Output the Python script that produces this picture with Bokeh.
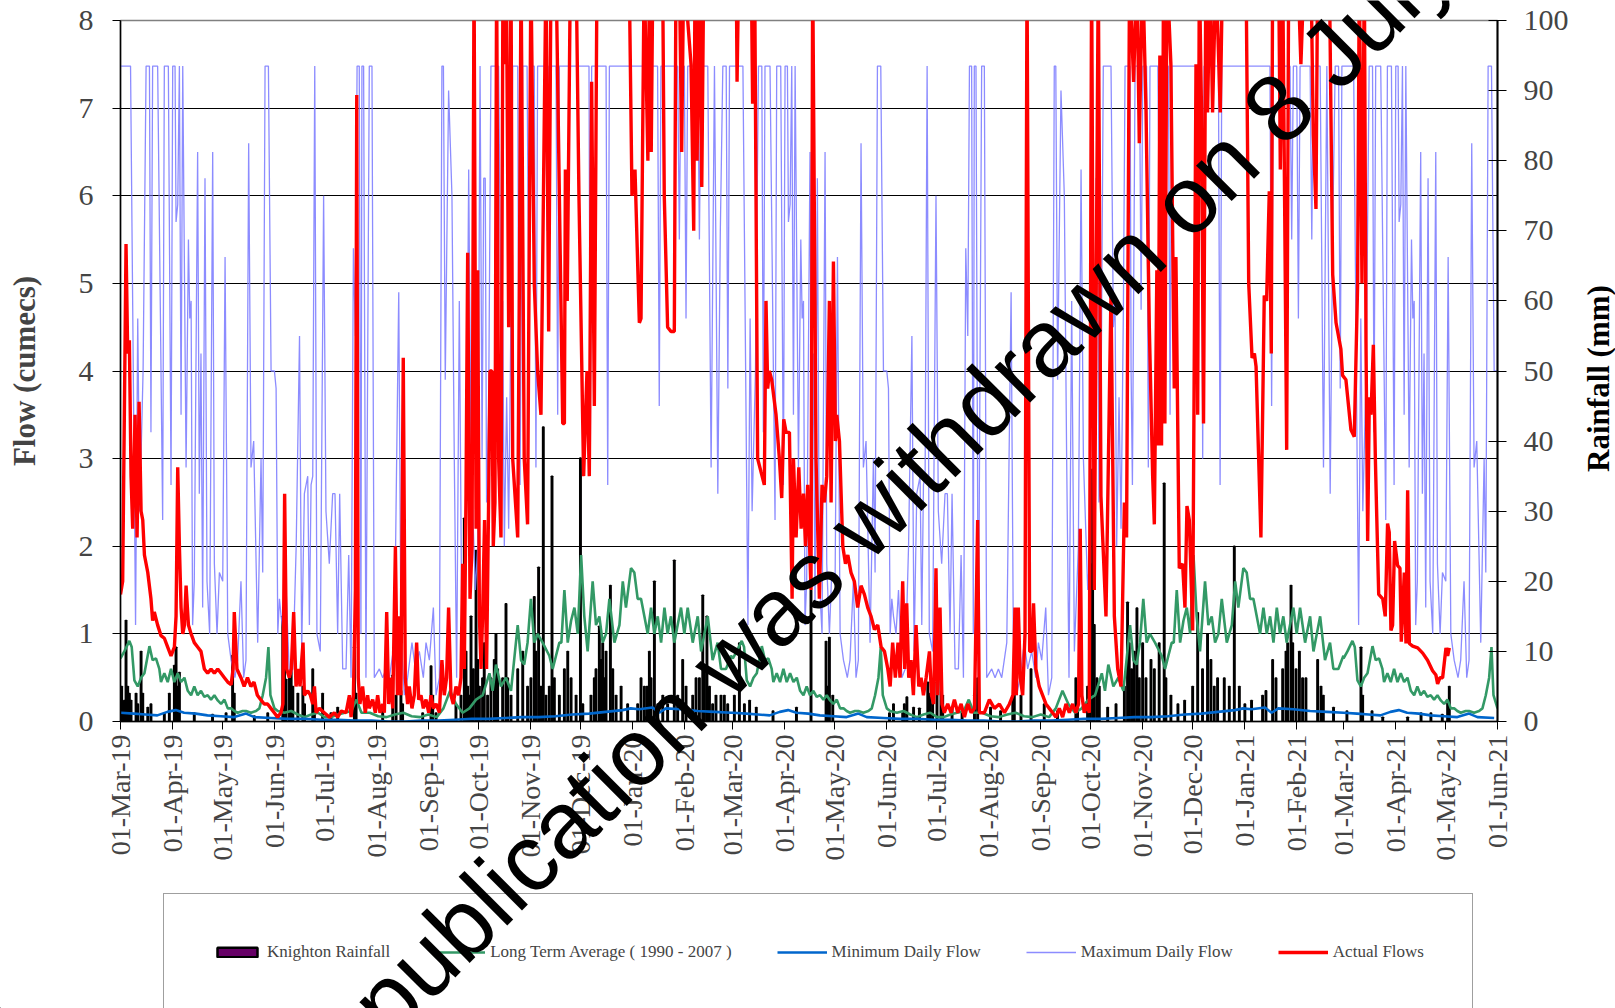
import math
import pandas as pd
from bokeh.plotting import figure
from bokeh.layouts import column
from bokeh.models import (Range1d, LinearAxis, FixedTicker, DatetimeTickFormatter,
                          Legend, LegendItem)
from bokeh.core.properties import value
from bokeh.embed import file_html
from bokeh.resources import INLINE

# ---------------- data ----------------
START = "2019-03-01"
END = "2021-06-01"
# calendar-statistic series repeat each hydrological year (day offset from 1 March)
year_starts = ["2019-03-01", "2020-03-01", "2021-03-01"]

# Maximum Daily Flow (cumecs), by day after 1 March
max_flow_pts = [
    (0, 7.48), (6, 7.48), (9, 1.1), (10.3, 4.6), (11.5, 2.4), (13.5, 4.0), (15.3, 7.48), (17.3, 7.48),
    (18.2, 3.3), (19.2, 7.48), (22.2, 7.48), (25.2, 2.3), (26.2, 7.48), (28.6, 7.48), (30.2, 2.7),
    (31.2, 7.48), (32.6, 7.48), (33.2, 5.7), (34.2, 5.9), (35.2, 7.48), (36.2, 3.5), (37.2, 7.48),
    (39.2, 2.9), (40.6, 5.5), (41.4, 4.6), (42.2, 4.8), (43.1, 1.1), (44.1, 1.6), (46.1, 6.5),
    (47.1, 2.6), (48.1, 4.2), (49.1, 1.3), (50.5, 6.2), (51.7, 1.6), (53.3, 1.0), (55.1, 6.5),
    (56.1, 1.8), (57.7, 1.0), (59.1, 1.7), (61.1, 1.6), (62.5, 5.3), (64.1, 1.0), (66.1, 0.7),
    (68.4, 0.5), (70, 0.7), (72, 1.6), (73.6, 0.5), (75, 0.7), (76.6, 6.6), (78, 2.9), (79.6, 3.2),
    (82, 0.9), (84, 3.0), (85, 1.7), (86.4, 7.48), (88.4, 7.48), (90, 4.0), (92, 4.0), (93, 3.8),
    (94, 1.0), (95, 1.4), (96, 1.2), (97.5, 1.0), (99, 1.5), (101, 0.5), (103, 0.6), (105, 2.0),
    (107, 4.4), (108.3, 0.8), (109.9, 2.6), (111.9, 2.8), (112.9, 1.1), (113.9, 2.7), (114.9, 2.8),
    (116.1, 7.48), (117.4, 1.0), (119.4, 0.8), (121.4, 6.0), (122.8, 2.4), (124.8, 1.8), (126.8, 2.6),
    (128.2, 2.6), (129.8, 1.0), (131, 2.6), (132.8, 0.6), (134.8, 0.6), (136.4, 1.9), (137.8, 0.5),
    (139.2, 5.4), (140.4, 4.4), (141.4, 7.48), (142.7, 7.48), (143.7, 1.0), (144.3, 7.48), (145.3, 7.48),
    (146.7, 0.5), (148.7, 7.48), (150.3, 7.48), (151.7, 0.5), (154.7, 0.6), (156.7, 0.5), (158.7, 0.6),
    (160.7, 0.5), (163.7, 0.9), (166.3, 4.9), (167.6, 1.0), (169.6, 0.3), (171.6, 0.5), (174.2, 0.9),
    (176.2, 0.6), (178.6, 0.8), (181, 0.5), (182.6, 0.9), (184.6, 0.7), (187, 1.3), (188.6, 0.3),
    (190.6, 0.5), (192.1, 7.48), (193, 7.48), (194.1, 3.9), (196.1, 7.2), (198.1, 6.0), (199.5, 3.0),
    (200.9, 0.5), (202.5, 4.8), (204.1, 0.8), (206.5, 2.0), (208.1, 6.3), (209.5, 3.0), (212.1, 1.5),
    (213.5, 2.0), (214.9, 7.48), (216.1, 3.0), (217.1, 6.2), (218, 6.2), (218.8, 2.5), (220, 3.5),
    (221.4, 7.48), (226, 7.48), (227.4, 4.5), (228.4, 4.8), (229.4, 2.0), (230.8, 3.7), (232, 2.2),
    (233.4, 4.7), (234.4, 7.48), (237.4, 7.48), (238, 4.0), (238.8, 2.7), (240.4, 7.48), (243, 7.48),
    (244, 4.7), (245, 7.48), (247.3, 7.48), (248.3, 2.9), (249.3, 7.48), (254, 7.48), (255, 5.6),
    (256, 7.48), (260.3, 7.48), (261.3, 3.5), (262.3, 7.48), (280, 7.48), (280.8, 3.0), (281.6, 7.48),
    (290.2, 7.48), (291.2, 2.7), (292.2, 7.48), (321, 7.48), (322, 3.6), (323, 7.48), (333, 7.48),
    (334, 5.5), (335, 7.48), (337, 7.48), (338, 4.6), (339, 7.48), (345, 7.48), (346, 5.5), (347, 7.48),
    (351, 7.48), (353, 2.9), (355, 7.48), (357, 2.6), (358.5, 5.6), (360, 7.48), (362, 7.48),
    (363, 3.8), (364, 7.48), (365, 7.48),
]

# Long Term Average (1990 - 2007), cumecs, by day after 1 March
lta_pts = [
    (0, 0.72), (2.3, 0.8), (5.3, 0.92), (6.7, 0.85), (8.3, 0.47), (10.3, 0.4), (12.3, 0.5), (14.3, 0.55),
    (17.3, 0.86), (19.2, 0.7), (21.2, 0.72), (23.2, 0.6), (24.2, 0.45), (26.2, 0.55), (28.2, 0.45),
    (30.2, 0.6), (32.2, 0.45), (34.2, 0.55), (36.2, 0.45), (38.2, 0.5), (40.2, 0.35), (42.2, 0.3),
    (44.1, 0.4), (46.1, 0.3), (48.1, 0.35), (50.1, 0.28), (52.1, 0.3), (54.1, 0.25), (56.1, 0.3),
    (58.1, 0.24), (60.1, 0.2), (62.1, 0.25), (64.1, 0.15), (66.1, 0.15), (68, 0.12), (70, 0.1),
    (73, 0.12), (75, 0.12), (78, 0.1), (81, 0.12), (83, 0.15), (85, 0.3), (87, 0.5), (88.4, 0.85),
    (89.6, 0.3), (92, 0.15), (94, 0.12), (98, 0.1), (102, 0.12), (106, 0.08), (110, 0.05), (114, 0.08),
    (118, 0.1), (122, 0.05), (126, 0.05), (130, 0.08), (134, 0.1), (138, 0.12), (141, 0.25), (144, 0.1),
    (149, 0.1), (154, 0.06), (159, 0.05), (164, 0.08), (169, 0.1), (174, 0.06), (179, 0.05), (184, 0.08),
    (189, 0.05), (193, 0.15), (197, 0.35), (200.5, 0.2), (204.5, 0.1), (208.5, 0.15), (212.5, 0.25),
    (216.5, 0.3), (220.5, 0.55), (222.4, 0.35), (224.4, 0.65), (227.4, 0.4), (230.4, 0.5), (233.4, 0.35),
    (237.4, 1.1), (239.4, 0.7), (241.3, 0.65), (243.3, 0.9), (245.3, 1.4), (247.3, 0.9), (249.3, 1.0),
    (252.3, 0.9), (256.3, 0.75), (258.3, 0.6), (260.3, 0.75), (262.3, 0.9), (263.5, 0.9), (265.3, 1.5),
    (267.3, 0.9), (269.3, 1.15), (271.3, 1.3), (273.3, 1.0), (275.3, 1.9), (277.2, 1.2), (279.2, 0.8),
    (282.2, 1.6), (284.2, 1.1), (286.2, 1.2), (288.2, 0.9), (290.2, 1.0), (292.2, 1.4), (295.2, 0.9),
    (298.2, 1.1), (300.2, 1.6), (302.1, 1.3), (305.1, 1.75), (307.1, 1.7), (309.1, 1.4), (311.1, 1.4),
    (313.1, 1.2), (315.1, 1.0), (317.1, 1.3), (319.1, 1.0), (321.1, 1.2), (323.1, 0.9), (325.1, 1.3),
    (327, 1.0), (329, 1.2), (331, 0.9), (333, 1.1), (335, 1.3), (337, 1.0), (339, 1.3), (342, 0.9),
    (345, 1.2), (347, 0.8), (349, 1.0), (351, 1.2), (353.9, 0.7), (356.9, 0.9), (358.9, 0.6),
    (361.9, 0.6), (364.9, 0.75),
]

# Minimum Daily Flow (cumecs), by day after 1 March
min_flow_pts = [
    (0, 0.10), (8, 0.09), (15, 0.08), (22, 0.07), (28, 0.11), (33, 0.13), (38, 0.10), (45, 0.09),
    (52, 0.07), (60, 0.06), (68, 0.05), (75, 0.09), (80, 0.05), (90, 0.04), (100, 0.03), (110, 0.03),
    (120, 0.02), (130, 0.02), (140, 0.01), (150, 0.01), (160, 0.0), (170, 0.0), (180, 0.01), (190, 0.01),
    (200, 0.02), (210, 0.03), (220, 0.03), (230, 0.04), (240, 0.05), (250, 0.05), (260, 0.06),
    (270, 0.08), (280, 0.09), (290, 0.11), (300, 0.13), (305, 0.15), (310, 0.14), (318, 0.16),
    (322, 0.10), (326, 0.15), (335, 0.14), (345, 0.12), (355, 0.11), (365, 0.10),
]

# Actual Flows (cumecs), by day after 1 March 2019 (values above 8 run off the top)
actual_pts = [
    (0, 1.45), (1.3, 1.6), (2.3, 3.5), (3.3, 5.45), (4.3, 4.2), (5.3, 4.35), (6.3, 2.8), (7.3, 2.2),
    (8.7, 3.5), (9.9, 2.1), (11.1, 3.65), (12.3, 2.4), (13.3, 2.3), (14.3, 1.9), (16.3, 1.7), (18.2, 1.4),
    (19.2, 1.15), (20.2, 1.25), (22.2, 1.1), (24.2, 0.98), (26.2, 0.95), (28.2, 0.85), (30.2, 0.75),
    (32.2, 0.85), (33.2, 1.2), (34.2, 2.9), (35.2, 2.0), (36.2, 1.3), (37.2, 1.0), (38.2, 1.1),
    (39.2, 1.55), (40.6, 1.1), (42.2, 1.0), (44.1, 0.9), (46.1, 0.85), (48.1, 0.8), (50.1, 0.6),
    (52.1, 0.55), (54.1, 0.6), (56.1, 0.55), (58.1, 0.6), (60.1, 0.55), (62.1, 0.5), (64.1, 0.45),
    (66.1, 0.42), (67.3, 0.6), (68, 1.25), (69.6, 0.6), (72, 0.5), (73.9, 0.4), (75.9, 0.5), (77.9, 0.4),
    (79.8, 0.45), (81.8, 0.3), (83.8, 0.25), (85.9, 0.2), (87.9, 0.2), (89.9, 0.15), (91.9, 0.1),
    (93.9, 0.05), (95.9, 0.1), (97.1, 0.2), (98.1, 2.6), (99.3, 0.6), (100.9, 0.5), (102.1, 0.6),
    (103.5, 1.25), (104.9, 0.4), (106.3, 0.6), (107.3, 0.4), (108.3, 0.7), (109.1, 0.9), (109.9, 0.3),
    (111.9, 0.35), (113.5, 0.3), (114.9, 0.2), (115.9, 0.4), (116.9, 0.1), (118.8, 0.15), (121.8, 0.1),
    (124.8, 0.05), (127.8, 0.1), (129.8, 0.05), (132, 0.12), (134.8, 0.1), (136.8, 0.3), (137.8, 0.05),
    (139.2, 0.3), (140.4, 1.5), (141.2, 7.15), (142.1, 0.5), (143.1, 0.2), (144.7, 0.4), (146.3, 0.1),
    (147.7, 0.3), (148.7, 0.15), (150.7, 0.25), (152.3, 0.1), (153.7, 0.3), (155.1, 0.1), (156.7, 0.2),
    (157.7, 0.1), (159.1, 1.25), (160.3, 0.2), (161.7, 0.5), (162.7, 0.15), (164.3, 2.0), (165.5, 0.3),
    (166.6, 1.2), (167.6, 0.3), (169, 4.15), (170.2, 0.5), (171.6, 0.2), (172.6, 0.4), (174.2, 0.15),
    (175.6, 0.3), (177, 0.9), (178.2, 0.25), (179.6, 0.3), (181, 0.15), (182.6, 0.25), (184.2, 0.1),
    (185.6, 0.3), (187, 0.15), (188.6, 0.2), (190.6, 0.1), (192.1, 0.7), (193.5, 0.3), (194.9, 0.5),
    (196.1, 1.3), (197.5, 0.3), (198.9, 0.2), (200.5, 0.4), (202.1, 0.3), (203.5, 0.5), (204.5, 1.8),
    (205.5, 0.6), (206.5, 2.6), (207.5, 5.35), (208.9, 1.4), (210.1, 2.0), (211.3, 8.6), (212.5, 2.2),
    (213.5, 5.15), (214.5, 1.2), (215.5, 0.6), (216.4, 1.2), (217.6, 2.3), (218.8, 0.6), (220, 2.5),
    (220.8, 4.0), (222, 4.0), (222.8, 2.0), (223.8, 2.5), (224.8, 8.6), (226, 3.0), (227.4, 2.1),
    (228.6, 8.6), (229.6, 7.5), (230.6, 8.6), (232, 4.5), (233.4, 8.6), (234.4, 3.0), (237.4, 2.1),
    (238.4, 5.0), (239.4, 8.6), (241.3, 3.0), (243.3, 2.25), (245.3, 8.6), (247.3, 5.0), (249.3, 4.0),
    (251.3, 3.5), (254.3, 8.6), (255.9, 4.45), (257.3, 8.6), (260.3, 8.6), (262.3, 6.0), (264.3, 3.4),
    (265.3, 3.4), (265.9, 6.3), (267, 4.8), (268.9, 8.6), (272.3, 8.6), (274, 6.0), (276.8, 2.8),
    (278.8, 4.0), (280.2, 2.8), (281.6, 7.3), (283.2, 3.6), (284.8, 8.6), (304, 8.6), (305.7, 6.0),
    (307.5, 6.3), (310.1, 4.55), (311.1, 4.6), (313, 8.6), (315.2, 6.4), (316.2, 8.6), (317.2, 6.5),
    (318.2, 8.6), (324, 8.6), (325, 6.0), (327, 4.5), (329, 4.45), (331, 4.45), (332, 8.6), (334, 8.6),
    (335.4, 6.5), (336.6, 8.6), (341, 7.5), (342.6, 5.6), (343.4, 8.6), (344.6, 6.4), (346, 8.6),
    (347.4, 6.1), (348.6, 8.6), (368, 8.6), (368.5, 7.3), (369.5, 8.6), (377, 8.6), (377.8, 7.05),
    (379, 8.6), (380.8, 3.0), (384.8, 2.7), (385.8, 4.8), (386.8, 3.8), (387.8, 4.0), (389.2, 3.9),
    (391.8, 3.5), (393.8, 3.0), (395.2, 2.55), (396.4, 3.45), (397.8, 3.3), (399.8, 3.3), (401.4, 1.4),
    (402.2, 3.0), (403.8, 2.1), (405.4, 2.9), (406.8, 2.2), (408.2, 2.6), (409.4, 2.0), (410.7, 2.7),
    (412.7, 1.5), (413.7, 8.6), (415.7, 3.0), (417.7, 1.4), (419.3, 2.7), (420.7, 2.5), (422.1, 2.8),
    (423.7, 4.8), (424.7, 2.5), (426.1, 5.25), (427.3, 3.2), (428.1, 3.5), (429.7, 3.2), (431.7, 2.0),
    (433.3, 1.8), (434.7, 1.9), (436.6, 1.7), (438.6, 1.6), (440.6, 1.3), (442.6, 1.55), (444.6, 1.45),
    (446.6, 1.3), (448.6, 1.2), (450.6, 1.05), (452.6, 1.1), (454.6, 0.85), (456.6, 0.8), (458.6, 0.6),
    (460, 0.4), (461.5, 0.9), (463.1, 0.5), (464.7, 0.9), (465.9, 0.5), (467.5, 1.6), (468.7, 0.6),
    (469.9, 1.35), (471.1, 0.5), (472.5, 0.7), (473.9, 0.3), (475.5, 1.1), (477.1, 0.4), (478.5, 0.5),
    (479.9, 0.3), (481.5, 0.5), (483.5, 0.8), (484.7, 0.3), (486, 0.2), (487.4, 1.75), (488.4, 0.3),
    (489.8, 1.3), (491, 0.2), (492.4, 0.1), (494.4, 0.2), (496.4, 0.1), (498.4, 0.25), (500.4, 0.1),
    (502.4, 0.2), (504.4, 0.05), (506.4, 0.2), (508.4, 0.1), (510.4, 0.15), (512.3, 2.3), (513.3, 0.1),
    (516.3, 0.1), (519.3, 0.25), (522.3, 0.15), (525.3, 0.2), (528.3, 0.1), (531.3, 0.2), (533.4, 0.3),
    (534.6, 1.3), (535.4, 0.3), (536.6, 1.3), (537.8, 0.5), (539.2, 0.3), (540.6, 1.0), (541.8, 8.6),
    (543.4, 0.8), (544.6, 0.8), (545.7, 1.35), (547.1, 0.6), (549.1, 0.4), (551.1, 0.3), (553.1, 0.2),
    (555.1, 0.15), (557.1, 0.1), (559.1, 0.05), (561.1, 0.15), (563.1, 0.05), (565.1, 0.2), (567.1, 0.1),
    (569.1, 0.2), (571, 0.1), (572.6, 0.2), (573.6, 2.2), (574.6, 0.3), (576, 0.1), (577.6, 0.2),
    (579, 0.1), (580.4, 8.6), (582, 1.5), (584.4, 8.6), (586, 2.57), (589, 1.2), (592, 4.9), (594, 1.2),
    (596, 0.6), (598, 0.4), (600, 2.5), (601.3, 2.1), (603.1, 8.6), (605.5, 7.3), (607.5, 8.6),
    (608.9, 6.6), (610.9, 8.6), (612.9, 7.0), (614.9, 4.5), (616.9, 2.8), (617.9, 2.25), (619.4, 5.15),
    (620.2, 3.15), (621.2, 7.6), (622.2, 3.15), (623.4, 8.6), (624.2, 3.4), (625.4, 8.6), (627.8, 7.5),
    (629.8, 3.8), (630.8, 5.3), (632.8, 1.75), (634.8, 1.8), (636.2, 1.3), (637.4, 2.46), (638.8, 2.3),
    (640.8, 1.04), (642.8, 7.5), (643.8, 3.5), (644.8, 8.6), (646.1, 6.95), (647.3, 3.4), (648.7, 8.6),
    (649.7, 6.95), (651.3, 8.6), (652.7, 6.95), (654.7, 8.6), (657.3, 6.95), (658.7, 8.6), (672.7, 8.6),
    (674.3, 5.0), (676.3, 4.15), (677.7, 4.2), (678.7, 4.05), (681.6, 2.1), (683.6, 4.86), (685, 4.8),
    (686.6, 6.05), (687.8, 4.2), (688.6, 8.6), (692.2, 8.6), (693.2, 6.3), (694.6, 8.6), (697, 3.1),
    (698.2, 8.6), (703.6, 8.6), (705.5, 7.5), (707.5, 8.6), (711.5, 8.6), (712.9, 6.7), (714.5, 5.85),
    (715.5, 8.6), (722.5, 8.6), (724.5, 5.1), (726.5, 4.55), (729.4, 4.25), (730.4, 3.95), (732.4, 3.9),
    (735.4, 3.33), (737.4, 3.25), (739.4, 5.0), (740.4, 8.6), (742, 5.0), (743.4, 8.6), (744.4, 4.33),
    (745.4, 2.06), (746.4, 3.7), (747.4, 3.5), (748.8, 4.3), (750, 3.0), (750.8, 2.36), (752, 1.45),
    (754.4, 1.4), (755.9, 1.2), (757.3, 2.26), (758.3, 2.16), (759.3, 1.04), (760.3, 1.1), (761.5, 2.06),
    (763.3, 1.78), (764.7, 1.75), (765.5, 0.91), (767.3, 1.7), (768.3, 0.89), (769.3, 2.64),
    (770.3, 0.89), (772.3, 0.86), (775.3, 0.84), (778.3, 0.78), (781.2, 0.7), (784.2, 0.58),
    (786.2, 0.53), (787.2, 0.43), (788.6, 0.5), (790.2, 0.5), (792.2, 0.84), (793.2, 0.75), (794.2, 0.84),
]

# Knighton Rainfall (mm), by day after 1 March 2019
rain_pts = [
    (0.7, 5), (2.3, 3), (3.3, 14.4), (4.3, 5), (5.3, 4), (6.3, 3), (9.3, 4), (10.3, 2.5), (12.3, 10),
    (13.3, 4), (16.3, 2), (18.2, 2.5), (26.2, 1.2), (29.2, 4), (32.2, 8), (33.2, 10.6), (34.2, 5),
    (35.2, 7), (44.1, 1.2), (55, 1), (63.1, 1.2), (67, 9.4), (68, 4), (80, 0.8), (88, 1.2), (97, 15),
    (98, 17.5), (99, 6), (101, 7), (102, 7.5), (103, 5), (106, 4), (109, 5), (110, 2.5), (114.9, 7.5),
    (115.9, 4), (120.8, 4), (125.8, 1.2), (129.8, 2), (139.8, 10.6), (140.8, 4), (156.7, 2),
    (162.7, 6.6), (164.7, 3.7), (167.6, 4.4), (168.6, 2.5), (180.6, 1.2), (185.6, 7.9), (186.6, 3.7),
    (188.6, 1.2), (200.5, 2.5), (203.5, 3.7), (205.5, 29), (206.5, 10), (207.5, 5), (208.5, 3.7),
    (209.5, 15), (210.9, 7.5), (212.5, 24.4), (213.5, 8.8), (214.5, 5), (216.4, 6.2), (217.4, 11.2),
    (219.4, 3.7), (221.4, 6.2), (223.4, 8.8), (224.4, 12.5), (225.4, 7.5), (228.4, 6.2), (230.4, 16.8),
    (231.4, 6.2), (233.4, 3.7), (237.4, 7.5), (240.4, 10), (243.3, 5), (245.3, 6.2), (247.3, 17.8),
    (248.3, 10), (249.9, 22), (251.3, 5), (252.7, 42), (254.3, 3.7), (256.3, 5), (257.9, 35),
    (259.3, 6.2), (262.3, 3.7), (265.3, 7.5), (267.3, 10), (269.3, 6.2), (272.3, 3.7), (274.9, 37.6),
    (276.3, 2.5), (281.2, 3.7), (283.2, 6.2), (284.2, 7.5), (286.2, 13.6), (287.2, 8.8), (288.2, 11.2),
    (289.2, 6.2), (290.2, 10), (292.8, 19.4), (294.2, 7.5), (296.2, 3.7), (299.2, 5), (303.1, 2.5),
    (309.1, 2.5), (311.1, 6.2), (313.1, 5), (314.7, 5), (316.1, 10), (317.1, 6.2), (319.1, 20),
    (321.1, 2.5), (324.1, 3.7), (327, 2.5), (331, 23), (333, 3.7), (336, 8.8), (338, 5), (342, 3.7),
    (344, 6.2), (346, 6.2), (348, 18), (349, 7.5), (350.5, 15), (352, 5), (353.9, 2.5), (355.9, 3.7),
    (358.9, 3.7), (360.9, 3.7), (362.9, 2.5), (366.9, 3.7), (369.9, 11.2), (372.9, 2.5), (376, 3),
    (380, 2), (390, 1.5), (404, 2), (412.7, 18.7), (421.7, 11.4), (422.7, 5), (423.7, 12), (425.7, 3.7),
    (459.6, 1.2), (462, 2.5), (467.5, 1.2), (468.5, 2.5), (470, 3.5), (474, 2), (477.5, 1.9),
    (482.5, 5.6), (484, 4), (485.4, 2.5), (488, 5.6), (490.4, 6.2), (491.4, 3.7), (497, 2), (503, 1.5),
    (510.4, 3.7), (512.3, 6.2), (520, 2), (526, 1.5), (533.3, 3.7), (534.2, 6.2), (538.2, 3.7),
    (544.2, 7.5), (552.1, 2.5), (560, 1.5), (571, 6.2), (572, 3.7), (578, 5), (579.6, 22.5), (581, 36),
    (582, 13.8), (583.6, 6.2), (585, 5), (590, 2), (595, 2.5), (600, 5), (601.9, 17), (602.9, 11.2),
    (604.3, 7.5), (605.9, 10), (607.5, 16.2), (608.9, 6.2), (610.9, 11.2), (612.9, 6.2), (615.9, 8.8),
    (617.9, 7.5), (620.8, 11.2), (623.8, 34), (624.8, 6.2), (627.8, 3.7), (632, 2.5), (636, 3),
    (640.8, 5), (643.8, 15.5), (646.7, 7.5), (649.7, 12.5), (651.7, 8.8), (653.7, 5), (655.7, 6.2),
    (659.7, 6.2), (662.7, 5), (665.7, 25), (668.7, 5), (672, 2.5), (676, 3), (682.6, 3.7), (684.6, 4.4),
    (688.6, 8.8), (690.6, 6.2), (694.6, 7.5), (696.6, 10), (697.6, 11.2), (699.6, 19.4), (700.6, 11.2),
    (702.6, 7.5), (704.6, 10), (706.5, 6.2), (708.5, 6.2), (715.5, 8.8), (717.5, 5), (718.9, 3.7),
    (725, 2), (733, 1.5), (741.4, 10.6), (742.4, 3.7), (748, 1.5), (754.4, 0.6), (769.3, 0.6),
    (777.3, 1.2), (783.2, 1.2), (790, 1), (793.2, 3), (794.2, 5),
]

flow_ticks = [0, 1, 2, 3, 4, 5, 6, 7, 8]
rain_ticks = [0, 10, 20, 30, 40, 50, 60, 70, 80, 90, 100]
legend_labels = ["Knighton Rainfall", "Long Term Average ( 1990 - 2007 )",
                 "Minimum Daily Flow", "Maximum Daily Flow", "Actual Flows"]
flow_title = "Flow (cumecs)"
rain_title = "Rainfall (mm)"
watermark_text = "This publication was withdrawn on 8 July 2021"

# ---------------- helpers ----------------
t0 = pd.Timestamp(START)
t_end = pd.Timestamp(END)
DAY = pd.Timedelta(days=1)


def from_start(pts):
    return [t0 + DAY * d for d, _ in pts], [v for _, v in pts]


def seasonal(pts):
    xs, ys = [], []
    starts = [pd.Timestamp(s) for s in year_starts]
    for i, ys0 in enumerate(starts):
        nxt = starts[i + 1] if i + 1 < len(starts) else t_end + DAY
        for d, v in pts:
            t = ys0 + DAY * d
            if t < nxt and t <= t_end:
                xs.append(t)
                ys.append(v)
    return xs, ys


def ms(t):
    return (pd.Timestamp(t) - pd.Timestamp("1970-01-01")).total_seconds() * 1000.0


W, H = 1615, 1008
FONT = "Liberation Serif"
C_RAIN_FILL = "#660066"
C_LTA = "#339966"
C_MIN = "#0066CC"
C_MAX = "#8080FF"
C_ACT = "#FF0000"

# ---------------- main chart ----------------
p = figure(x_axis_type="datetime",
           x_range=Range1d(t0, t_end), y_range=Range1d(0, 8),
           frame_width=1377, frame_height=701,
           min_border_left=120, min_border_right=118, min_border_top=20, min_border_bottom=287,
           output_backend="svg", toolbar_location=None,
           background_fill_color="white", border_fill_color="white")
p.extra_y_ranges = {"rain": Range1d(0, 100)}

p.outline_line_color = "#808080"
p.outline_line_width = 1.5
p.xgrid.visible = False
p.ygrid.ticker = FixedTicker(ticks=flow_ticks)
p.ygrid.grid_line_color = "black"
p.ygrid.grid_line_width = 1

la = p.left[0]
la.ticker = FixedTicker(ticks=flow_ticks)
la.axis_label = flow_title
la.axis_label_text_font = FONT
la.axis_label_text_font_style = "bold"
la.axis_label_text_font_size = "31px"
la.axis_label_standoff = 34
la.major_label_text_font = FONT
la.major_label_text_font_size = "30px"
la.major_label_standoff = 19
la.major_tick_out = 8
la.major_tick_in = 0
la.minor_tick_out = 0
la.minor_tick_in = 0
la.axis_line_color = "black"
la.axis_line_width = 1.5

ba = p.below[0]
ba.ticker = FixedTicker(ticks=[ms(t) for t in pd.date_range(START, END, freq="MS")])
fmt = "%d-%b-%y"
ba.formatter = DatetimeTickFormatter(microseconds=fmt, milliseconds=fmt, seconds=fmt, minsec=fmt,
                                     minutes=fmt, hourmin=fmt, hours=fmt, days=fmt, months=fmt,
                                     years=fmt, strip_leading_zeros=False)
ba.major_label_orientation = math.pi / 2
ba.major_label_text_font = FONT
ba.major_label_text_font_size = "28px"
ba.major_label_standoff = 5
ba.major_tick_out = 8
ba.major_tick_in = 0
ba.minor_tick_out = 0
ba.minor_tick_in = 0
ba.axis_line_color = "black"
ba.axis_line_width = 1.5

ra = LinearAxis(y_range_name="rain", ticker=FixedTicker(ticks=rain_ticks))
ra.major_label_text_font = FONT
ra.major_label_text_font_size = "30px"
ra.major_label_standoff = 17
ra.major_tick_out = 9
ra.major_tick_in = 9
ra.minor_tick_out = 0
ra.minor_tick_in = 0
ra.axis_line_color = "black"
ra.axis_line_width = 2
p.add_layout(ra, "right")

rx, rv = from_start(rain_pts)
p.vbar(x=rx, top=rv, bottom=0, width=0.85 * 86400000, y_range_name="rain",
       fill_color=C_RAIN_FILL, line_color="black", line_width=1.5)

lx, lv = seasonal(lta_pts)
p.line(lx, lv, line_color=C_LTA, line_width=2.6)

mx, mv = seasonal(min_flow_pts)
p.line(mx, mv, line_color=C_MIN, line_width=2.6)

xx, xv = seasonal(max_flow_pts)
p.line(xx, xv, line_color=C_MAX, line_width=1.3, line_alpha=0.9)

ax, av = from_start(actual_pts)
p.line(ax, av, line_color=C_ACT, line_width=3.4)


# ---------------- transparent overlays (full-canvas frames) ----------------
def overlay():
    f = figure(frame_width=W, frame_height=H, x_range=Range1d(0, W), y_range=Range1d(0, H),
               min_border=0, x_axis_location=None, y_axis_location=None,
               output_backend="svg", toolbar_location=None,
               background_fill_alpha=0, border_fill_alpha=0, outline_line_color=None)
    f.grid.visible = False
    try:
        f.frame_align = False
    except Exception:
        pass
    f.styles = {"position": "absolute", "left": "0px", "top": "0px"}
    return f


try:
    p.frame_align = False
except Exception:
    pass

# overlay 1: legend below the chart and the right-axis title
ov = overlay()
k_rain = ov.vbar(x=[-500], top=[-500], width=1, fill_color=C_RAIN_FILL, line_color="black", line_width=2.5)
k_lta = ov.line(x=[-500, -490], y=[-500, -500], line_color=C_LTA, line_width=2.6)
k_min = ov.line(x=[-500, -490], y=[-500, -500], line_color=C_MIN, line_width=2.6)
k_max = ov.line(x=[-500, -490], y=[-500, -500], line_color=C_MAX, line_width=1.3, line_alpha=0.9)
k_act = ov.line(x=[-500, -490], y=[-500, -500], line_color=C_ACT, line_width=3.4)

legend = Legend(items=[LegendItem(label=legend_labels[0], renderers=[k_rain]),
                       LegendItem(label=legend_labels[1], renderers=[k_lta]),
                       LegendItem(label=legend_labels[2], renderers=[k_min]),
                       LegendItem(label=legend_labels[3], renderers=[k_max]),
                       LegendItem(label=legend_labels[4], renderers=[k_act])],
                orientation="horizontal", location=(163, -3),
                glyph_width=50, glyph_height=12, label_height=20, label_standoff=5, spacing=45,
                padding=48, margin=0,
                label_text_font=FONT, label_text_font_size="17px",
                border_line_color="#404040", border_line_width=1.2,
                background_fill_color="white", background_fill_alpha=1.0)
ov.add_layout(legend)

ov.text(x=[1597.5], y=[H - 378], text=[rain_title], angle=math.pi / 2,
        text_align="center", text_baseline="middle",
        text_font=value(FONT), text_font_style="bold", text_font_size=value("31px"),
        text_color="black")

# overlay 2: diagonal watermark on top of everything
wm = overlay()
wm.text(x=[912], y=[H - 473], text=[watermark_text], angle=math.pi / 4,
        text_align="center", text_baseline="alphabetic",
        text_font=value("Liberation Sans"), text_font_size=value("95px"),
        text_color="black")

lay = column(p, ov, wm, width=W, height=H)
open("out.html", "w").write(file_html(lay, INLINE))
